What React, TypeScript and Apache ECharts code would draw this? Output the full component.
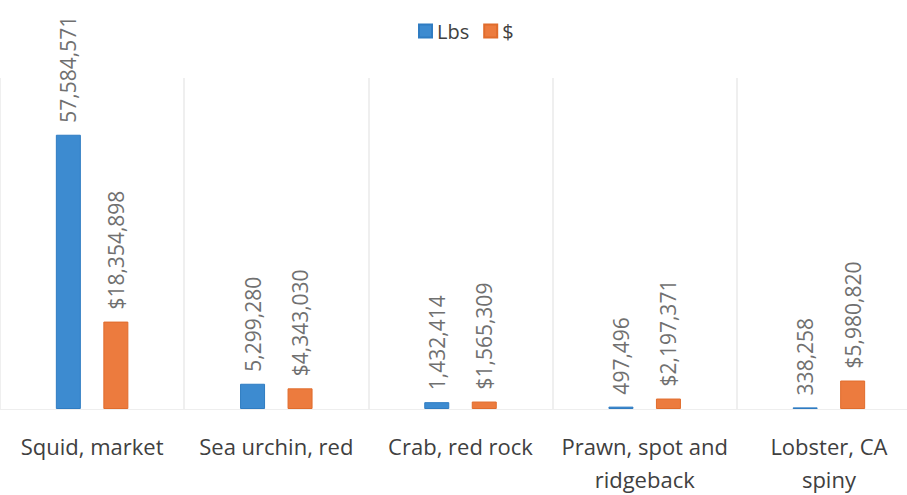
import React, { useEffect, useRef } from "react";
import * as echarts from "echarts";

const categories = [
  "Squid, market",
  "Sea urchin, red",
  "Crab, red rock",
  "Prawn, spot and\nridgeback",
  "Lobster, CA\nspiny",
];
const lbsValues = [57584571, 5299280, 1432414, 497496, 338258];
const dollarValues = [18354898, 4343030, 1565309, 2197371, 5980820];
const seriesNames = ["Lbs", "$"];

const fmt = (v: number) => v.toLocaleString("en-US");
const FONT = "'Open Sans', 'Noto Sans', sans-serif";

export default function App() {
  const ref = useRef<HTMLDivElement>(null);
  useEffect(() => {
    if (!ref.current) return;
    const chart = echarts.init(ref.current, undefined, { renderer: "svg" });
    const labelBase = {
      show: true,
      position: "top" as const,
      rotate: 90,
      align: "left" as const,
      verticalAlign: "middle" as const,
      distance: 12,
      color: "#707070",
      fontSize: 21,
      fontFamily: FONT,
    };
    chart.setOption({
      animation: false,
      backgroundColor: "#ffffff",
      legend: {
        data: seriesNames,
        top: 16,
        left: 413,
        itemWidth: 13,
        itemHeight: 13,
        itemGap: 14,
        icon: "rect",
        textStyle: { fontSize: 20, color: "#404040", fontFamily: FONT },
      },
      grid: { left: 0, right: 0, top: 78, bottom: 85, containLabel: false },
      xAxis: {
        type: "category",
        data: categories,
        axisLine: { show: true, lineStyle: { color: "#eeeeee", width: 1 } },
        axisTick: { show: false },
        splitLine: { show: true, lineStyle: { color: "#efefef", width: 2 } },
        axisLabel: {
          color: "#404040",
          fontSize: 22,
          fontFamily: FONT,
          margin: 20,
          lineHeight: 33,
          interval: 0,
        },
      },
      yAxis: {
        type: "value",
        min: 0,
        max: 69500000,
        show: false,
        splitLine: { show: false },
      },
      series: [
        {
          name: seriesNames[0],
          type: "bar",
          data: lbsValues,
          barWidth: 25,
          barGap: "90%",
          itemStyle: { color: "#3d8bd0", borderColor: "#2f7cc2", borderWidth: 1 },
          label: { ...labelBase, formatter: (p: any) => fmt(p.value) },
        },
        {
          name: seriesNames[1],
          type: "bar",
          data: dollarValues,
          barWidth: 25,
          itemStyle: { color: "#ec7b3e", borderColor: "#e06c2c", borderWidth: 1 },
          label: { ...labelBase, formatter: (p: any) => "$" + fmt(p.value) },
        },
      ],
    });
    return () => chart.dispose();
  }, []);
  return (
    <div style={{ width: 907, height: 495, position: "absolute", left: 0, top: 0, overflow: "hidden", background: "#fff" }}>
      <div ref={ref} style={{ width: 921, height: 495 }} />
    </div>
  );
}
